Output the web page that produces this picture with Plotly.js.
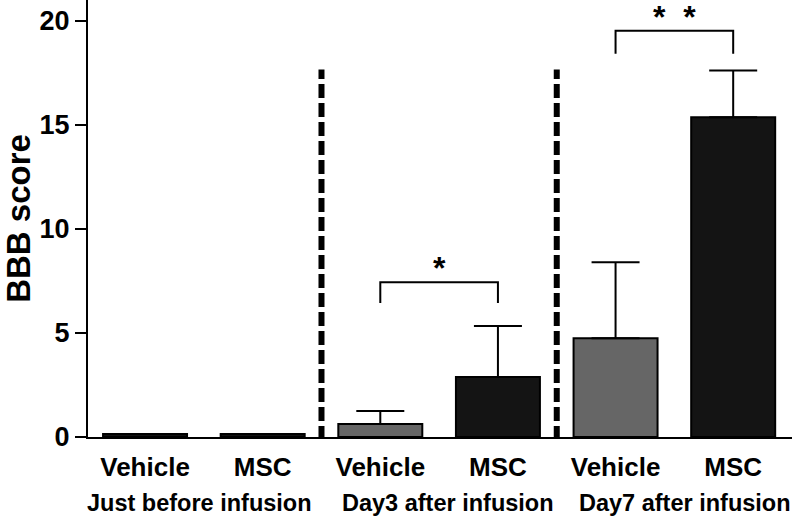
<!DOCTYPE html>
<html>
<head>
<meta charset="utf-8">
<script src="https://cdn.plot.ly/plotly-3.0.1.min.js"></script>
<style>html,body{margin:0;padding:0;background:#fff;}#chart{width:792px;height:518px;}</style>
</head>
<body>
<div id="chart"></div>
<script>
// ---- data ----
const barLabels   = ["Vehicle", "MSC", "Vehicle", "MSC", "Vehicle", "MSC"];
const groupLabels = ["Just before infusion", "Day3 after infusion", "Day7 after infusion"];
const bbbMean     = [0.15, 0.15, 0.62, 2.88, 4.75, 15.37];
const bbbErrUp    = [null, null, 0.63, 2.45, 3.65, 2.24];
const yTicks      = [0, 5, 10, 15, 20];
const sigPairs    = [[2, 3], [4, 5]];
const sigMarks    = ["*", "*\u00a0\u00a0*"];
const sigTop      = [7.44, 19.52];
const sigDrop     = [1.0, 1.1];

// ---- styles ----
const FONT = "Liberation Sans, Arial, Helvetica, sans-serif";
const barColors = ["#111111", "#111111", "#666666", "#141414", "#666666", "#141414"];

const xIdx = barLabels.map((_, i) => i);

const trace = {
  type: "bar",
  x: xIdx,
  y: bbbMean,
  marker: { color: barColors, line: { color: "#000", width: 2 } },
  error_y: {
    type: "data", symmetric: false,
    array: bbbErrUp,
    arrayminus: bbbErrUp.map(v => (v === null ? null : 0)),
    color: "#000", thickness: 2, width: 24
  },
  hoverinfo: "skip",
  showlegend: false
};

const shapes = [];
// group dividers (between groups)
for (let g = 1; g < groupLabels.length; g++) {
  const xd = g * 2 - 0.5;
  shapes.push({
    type: "line", xref: "x", yref: "y",
    x0: xd, x1: xd, y0: -0.15, y1: 17.66,
    line: { color: "#000", width: 6, dash: "14px,5px" }
  });
}
// significance brackets
const annotations = [];
sigPairs.forEach((p, k) => {
  const top = sigTop[k], bot = sigTop[k] - sigDrop[k];
  shapes.push({ type: "path", xref: "x", yref: "y",
    path: `M ${p[0]},${bot} L ${p[0]},${top} L ${p[1]},${top} L ${p[1]},${bot}`,
    line: { color: "#000", width: 2 } });
  annotations.push({ xref: "x", yref: "y", x: (p[0] + p[1]) / 2, y: top,
    text: sigMarks[k], showarrow: false, xanchor: "center", yanchor: "bottom",
    yshift: -6, font: { family: FONT, size: 32, color: "#000", weight: "bold" } });
});
// group labels
const groupShift = [-4, 9, 11];
groupLabels.forEach((t, g) => {
  annotations.push({ xref: "x", yref: "paper", x: g * 2 + 0.5, y: -0.151,
    xshift: groupShift[g],
    text: t, showarrow: false, xanchor: "center", yanchor: "middle",
    font: { family: FONT, size: 23.5, color: "#000", weight: "bold" } });
});

const layout = {
  width: 792, height: 518,
  margin: { l: 88, r: 0, t: 0, b: 81, pad: 0 },
  paper_bgcolor: "#fff", plot_bgcolor: "#fff",
  bargap: 0.286,
  showlegend: false,
  xaxis: {
    range: [-0.485, 5.5],
    tickvals: xIdx, ticktext: barLabels,
    ticks: "", showgrid: false, zeroline: false,
    showline: true, linecolor: "#000", linewidth: 2,
    tickfont: { family: FONT, size: 26, color: "#000", weight: "bold" },
    ticklabelstandoff: 6
  },
  yaxis: {
    range: [0, 21],
    tickvals: yTicks, ticktext: yTicks.map(String),
    ticks: "outside", ticklen: 11, tickwidth: 2, tickcolor: "#000",
    showgrid: false, zeroline: false,
    showline: true, linecolor: "#000", linewidth: 2,
    tickfont: { family: FONT, size: 27, color: "#000", weight: "bold" },
    title: { text: "BBB score", font: { family: FONT, size: 33, color: "#000", weight: "bold" }, standoff: 12 }
  },
  shapes: shapes,
  annotations: annotations
};

Plotly.newPlot("chart", [trace], layout, { staticPlot: true, displayModeBar: false });
</script>
</body>
</html>
